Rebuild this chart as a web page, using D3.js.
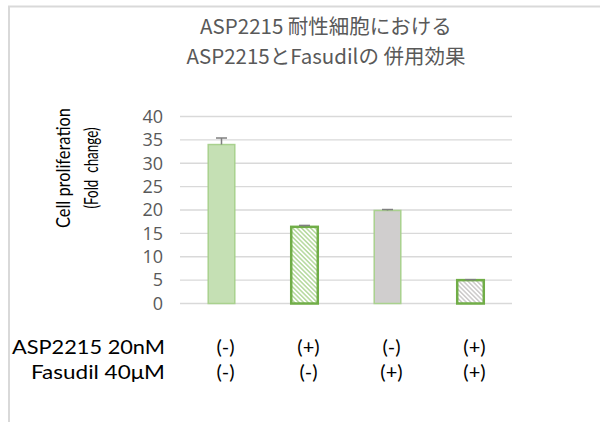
<!DOCTYPE html>
<html><head><meta charset="utf-8">
<script src="https://cdn.jsdelivr.net/npm/d3@7/dist/d3.min.js"></script>
<style>body{margin:0;background:#fff}svg{display:block}</style>
</head><body>
<script>
const categories = ["A","B","C","D"];
const values = [34.0, 16.4, 19.9, 5.0];
const errors = [1.4, 0.3, 0.2, 0.1];
const asp = ["(-)","(+)","(-)","(+)"];
const fas = ["(-)","(-)","(+)","(+)"];
const yTicks = [0,5,10,15,20,25,30,35,40];
const titleLines = ["ASP2215 耐性細胞における","ASP2215とFasudilの 併用効果"];
const yLabelLines = ["Cell proliferation","(Fold  change)"];
const rowLabels = ["ASP2215 20nM","Fasudil 40μM"];
const fills = ["#c5e0b4","url(#hatchG)","#d0cece","url(#hatchS)"];
const strokes = ["#a9d18e","#70ad47","#a9d18e","#70ad47"];
const strokeW = [1.5,2.5,1.5,2.5];

const W=600,H=422;
const svg=d3.select("body").append("svg").attr("width",W).attr("height",H);
const defs=svg.append("defs");
function hatch(id,color){
  const p=defs.append("pattern").attr("id",id).attr("patternUnits","userSpaceOnUse")
    .attr("width",3.2).attr("height",3.2).attr("patternTransform","rotate(-45)");
  p.append("rect").attr("width",3.2).attr("height",3.2).attr("fill","#fff");
  p.append("line").attr("x1",0.8).attr("y1",0).attr("x2",0.8).attr("y2",3.2)
    .attr("stroke",color).attr("stroke-width",1.6);
}
hatch("hatchG","#b9dba3");
hatch("hatchS","#cfcdcd");

// frame
svg.append("line").attr("x1",8).attr("x2",600).attr("y1",6.5).attr("y2",6.5).attr("stroke","#d9d9d9").attr("stroke-width",2);
svg.append("line").attr("x1",9).attr("x2",9).attr("y1",6).attr("y2",422).attr("stroke","#d9d9d9").attr("stroke-width",2);

const x=d3.scaleBand().domain(categories).range([180,512]).paddingInner(0.68).paddingOuter(0.34);
const y=d3.scaleLinear().domain([0,40]).range([303.5,116.5]);

// grid
svg.append("g").selectAll("line").data(yTicks).join("line")
  .attr("x1",180).attr("x2",512).attr("y1",d=>y(d)).attr("y2",d=>y(d))
  .attr("stroke","#d9d9d9").attr("stroke-width",1.3);

// y axis tick labels
const ax=svg.append("g").attr("transform","translate(180,0)")
  .call(d3.axisLeft(y).tickValues(yTicks).tickSize(0).tickPadding(17));
ax.select(".domain").remove();
ax.selectAll("text").attr("fill","#595959").style("font-family","'Open Sans',sans-serif").style("font-size","18px");

// bars
svg.append("g").selectAll("rect").data(values).join("rect")
  .attr("x",(d,i)=>x(categories[i])).attr("width",x.bandwidth())
  .attr("y",d=>y(d)).attr("height",d=>y(0)-y(d))
  .attr("fill",(d,i)=>fills[i]).attr("stroke",(d,i)=>strokes[i]).attr("stroke-width",(d,i)=>strokeW[i]);

// error bars
const eg=svg.append("g").attr("stroke","#7f7f7f").attr("stroke-width",1.5);
values.forEach((v,i)=>{
  const cx=x(categories[i])+x.bandwidth()/2;
  eg.append("line").attr("x1",cx).attr("x2",cx).attr("y1",y(v)).attr("y2",y(v+errors[i]));
  eg.append("line").attr("x1",cx-5.5).attr("x2",cx+5.5).attr("y1",y(v+errors[i])).attr("y2",y(v+errors[i]));
});

// title
svg.append("g").selectAll("text").data(titleLines).join("text")
  .attr("x",326).attr("y",(d,i)=>34+i*30).attr("text-anchor","middle")
  .attr("fill","#595959").style("font-family","'Noto Sans CJK JP',sans-serif").style("font-size","20.5px")
  .text(d=>d);

// y label
const yLens=[120,81];
svg.append("g").selectAll("text").data(yLabelLines).join("text")
  .attr("transform",(d,i)=>`translate(${70+i*28},168) rotate(-90)`).attr("text-anchor","middle")
  .attr("fill","#000").style("font-family","Lato,'Open Sans',sans-serif").style("font-size","19px")
  .attr("textLength",(d,i)=>yLens[i]).attr("lengthAdjust","spacingAndGlyphs")
  .style("white-space","pre").attr("xml:space","preserve")
  .text(d=>d);

// bottom labels
const rowLens=[153,134];
const lab=svg.append("g").style("font-family","Lato,'Open Sans',sans-serif").style("font-size","20px").attr("fill","#000");
lab.selectAll("text.row").data(rowLabels).join("text").attr("class","row")
  .attr("x",165).attr("y",(d,i)=>354+i*25).attr("text-anchor","end")
  .attr("textLength",(d,i)=>rowLens[i]).attr("lengthAdjust","spacingAndGlyphs").text(d=>d);
[asp,fas].forEach((arr,r)=>{
  lab.selectAll("text.c"+r).data(arr).join("text").attr("class","c"+r)
    .attr("x",(d,i)=>x(categories[i])+x.bandwidth()/2+4).attr("y",354+r*25)
    .attr("text-anchor","middle").text(d=>d);
});
</script>
</body></html>
